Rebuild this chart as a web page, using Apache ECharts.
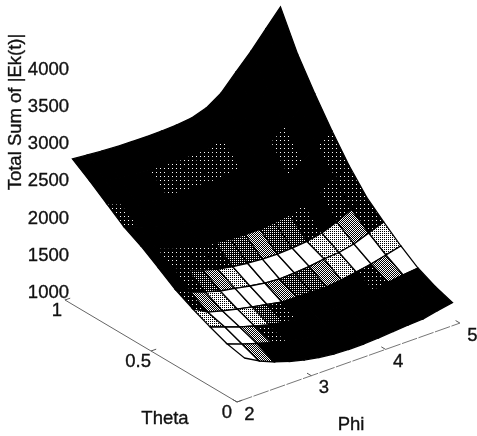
<!DOCTYPE html>
<html>
<head>
<meta charset="utf-8">
<style>html,body{margin:0;padding:0;background:#fff}#c{width:477px;height:436px}</style>
<script src="https://cdn.jsdelivr.net/npm/echarts@6/dist/echarts.min.js"></script>
</head>
<body>
<div id="c"></div>
<script>
// Grid nodes of the surface
const phiValues = [2.1,2.3,2.5,2.7,2.9,3.1,3.3,3.5,3.7,3.9,4.1,4.3,4.5,4.7,4.9];
const thetaValues = [0,0.1,0.2,0.3,0.4,0.5,0.6,0.7,0.8,0.9,1];

// Total Sum of |Ek(t)|: one row per theta, one value per phi
const z00 = [1556,1445,1362,1297,1246,1208,1185,1175,1177,1188,1204,1220,1231,1274,1310];
const z01 = [1607,1536,1473,1412,1360,1320,1290,1275,1270,1272,1285,1305,1330,1365,1390];
const z02 = [1699,1628,1558,1500,1444,1410,1380,1370,1365,1365,1380,1405,1450,1480,1500];
const z03 = [1804,1692,1636,1591,1548,1511,1473,1470,1466,1464,1487,1523,1560,1610,1661];
const z04 = [1922,1824,1754,1696,1660,1622,1591,1575,1585,1602,1632,1648,1692,1769,1847];
const z05 = [2081,1996,1913,1841,1782,1745,1720,1705,1700,1712,1730,1773,1851,1950,2046];
const z06 = [2233,2140,2068,2008,1958,1927,1910,1897,1897,1918,1952,2024,2123,2240,2324];
const z07 = [2358,2284,2224,2175,2135,2109,2100,2089,2094,2123,2175,2275,2394,2535,2657];
const z08 = [2530,2462,2416,2381,2352,2333,2335,2326,2337,2377,2450,2585,2730,2905,3020];
const z09 = [2702,2640,2608,2587,2570,2558,2570,2564,2580,2632,2725,2895,3065,3270,3415];
const z10 = [2860,2843,2827,2816,2812,2808,2812,2821,2844,2909,3039,3250,3455,3687,3913];
const zRows = [z00,z01,z02,z03,z04,z05,z06,z07,z08,z09,z10];

// Cell shade: 0 black ... 5 white
const s0 = [5,3,0,0,0,0,0,0,0,0,0,0,0,0];
const s1 = [5,5,3,1,0,0,0,0,0,0,0,0,0,0];
const s2 = [4,5,5,4,2,1,0,0,0,0,0,1,3,5];
const s3 = [1,3,4,5,5,5,3,2,2,3,4,5,5,4];
const s4 = [0,1,2,3,4,5,5,5,5,5,4,4,3,1];
const s5 = [0,1,1,1,1,2,2,3,2,2,1,0,1,1];
const s6 = [0,0,0,0,0,0,0,0,0,0,0,0,0,1];
const s7 = [1,0,0,0,0,0,0,0,0,0,0,1,0,0];
const s8 = [0,0,0,0,1,1,1,1,1,0,0,0,0,0];
const s9 = [0,0,0,0,0,0,0,0,0,0,0,0,0,0];
const shadeRows = [s0,s1,s2,s3,s4,s5,s6,s7,s8,s9];

// Axes
const phiTicks = [2,3,4,5];
const thetaTicks = [0,0.5,1];
const zTicks = [1000,1500,2000,2500,3000,3500,4000];

const FONT = '"Liberation Sans", Arial, sans-serif';
const SIZE = 18.5;
const INK = '#111';
const textStyle = function (text, align) {
  return { text: text, fill: INK, stroke: INK, lineWidth: 0.35, font: SIZE + 'px ' + FONT, align: align, verticalAlign: 'middle' };
};

// View of the 3-D box: the hidden axes measure the projected plane
function project(phi, theta, z) {
  return [
    (phi - 2) - theta * (172 / 74.3),
    (z - 1000) + (phi - 2) * (26.3 / 0.0744) + theta * (102 / 0.0744)
  ];
}

// Halftone fills
const BAYER = [[0,8,2,10],[12,4,14,6],[3,11,1,9],[15,7,13,5]];
const COVER = [0,1,4,8,12,16];
const fills = COVER.map(function (n) {
  if (n === 0) return '#000';
  if (n === 16) return '#fff';
  const cv = document.createElement('canvas');
  cv.width = cv.height = 4;
  const g = cv.getContext('2d');
  g.fillStyle = '#000';
  g.fillRect(0, 0, 4, 4);
  g.fillStyle = '#fff';
  for (let r = 0; r < 4; r++) for (let c = 0; c < 4; c++) {
    if (BAYER[r][c] < n) g.fillRect(c, r, 1, 1);
  }
  return { image: cv, repeat: 'repeat' };
});

// back to front
const cells = [];
for (let j = shadeRows.length - 1; j >= 0; j--) {
  for (let i = 0; i < phiValues.length - 1; i++) cells.push([i, j]);
}

const surface = {
  type: 'custom',
  coordinateSystem: 'cartesian2d',
  silent: true,
  clip: false,
  data: cells,
  renderItem: function (params, api) {
    const i = api.value(0), j = api.value(1);
    const node = function (a, b) {
      return api.coord(project(phiValues[a], thetaValues[b], zRows[b][a]));
    };
    return {
      type: 'polygon',
      shape: { points: [node(i, j), node(i + 1, j), node(i + 1, j + 1), node(i, j + 1)] },
      style: { fill: fills[shadeRows[j][i]], stroke: '#000', lineWidth: 1.3 }
    };
  }
};

const segLine = function (api, p, q, color, width, dash) {
  const a = api.coord(p), b = api.coord(q);
  return {
    type: 'line',
    shape: { x1: a[0], y1: a[1], x2: b[0], y2: b[1] },
    style: { stroke: color, lineWidth: width, lineDash: dash || null }
  };
};

const box = {
  type: 'custom',
  coordinateSystem: 'cartesian2d',
  silent: true,
  clip: false,
  data: [[0]],
  renderItem: function (params, api) {
    const kids = [];
    kids.push(segLine(api, project(2, 0, 1000), project(2, 1, 1000), '#666', 1));
    kids.push(segLine(api, project(2, 0, 1000), project(5, 0, 1000), '#777', 1, [16, 1.5]));
    kids.push(segLine(api, project(2, 1, 1000), project(2, 1, 4000), '#bbb', 1, [2, 36]));
    phiTicks.forEach(function (p) {
      kids.push(segLine(api, project(p, 0, 1000), project(p, 0.025, 1000), '#555', 1));
    });
    thetaTicks.forEach(function (t) {
      kids.push(segLine(api, project(2, t, 1000), project(2.07, t, 1000), '#555', 1));
    });
    return { type: 'group', children: kids };
  }
};

const label = function (api, p, text, dx, dy, align) {
  const a = api.coord(p);
  return { type: 'text', x: a[0] + dx, y: a[1] + dy, style: textStyle(text, align) };
};

const ticks = {
  type: 'custom',
  coordinateSystem: 'cartesian2d',
  silent: true,
  clip: false,
  data: [[0]],
  renderItem: function (params, api) {
    const kids = [];
    zTicks.forEach(function (z) {
      kids.push(label(api, project(2, 1, z), String(z), 4, -7, 'right'));
    });
    phiTicks.forEach(function (p) {
      kids.push(label(api, project(p, 0, 1000), String(p), 12.5, 12.5, 'center'));
    });
    kids.push(label(api, project(2, 1, 1000), '1', -3, 10.5, 'right'));
    kids.push(label(api, project(2, 0.5, 1000), '0.5', 0, 10.5, 'right'));
    kids.push(label(api, project(2, 0, 1000), '0', -5, 10.5, 'right'));
    return { type: 'group', children: kids };
  }
};

const chart = echarts.init(document.getElementById('c'), null, { renderer: 'canvas' });
chart.setOption({
  animation: false,
  backgroundColor: '#fff',
  grid: { left: 0, right: 0, top: 0, bottom: 0 },
  xAxis: { type: 'value', min: -237 / 74.3, max: 240 / 74.3, show: false },
  yAxis: { type: 'value', min: -34 / 0.0744, max: 402 / 0.0744, show: false },
  graphic: [
    { type: 'text', x: 16, y: 112, rotation: Math.PI / 2, style: textStyle('Total Sum of |Ek(t)|', 'center') },
    { type: 'text', x: 165, y: 419, style: textStyle('Theta', 'center') },
    { type: 'text', x: 351, y: 425, style: textStyle('Phi', 'center') }
  ],
  series: [box, surface, ticks]
});
</script>
</body>
</html>
